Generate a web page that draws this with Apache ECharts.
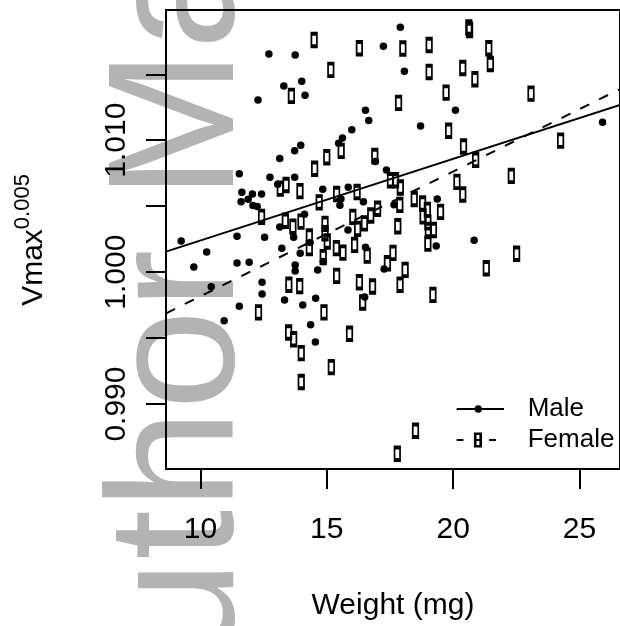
<!DOCTYPE html>
<html>
<head>
<meta charset="utf-8">
<script src="https://cdn.jsdelivr.net/npm/echarts/dist/echarts.min.js"></script>
<style>
  html, body { margin: 0; padding: 0; background: #fff; }
  #chart { width: 620px; height: 626px; }
</style>
</head>
<body>
<div id="chart"></div>
<script>
  // [weight (mg), Vmax^0.005]
  const malePoints = [
    [12.71, 1.01654], [13.75, 1.01646], [17.91, 1.01856], [17.24, 1.01712], [18.07, 1.01523],
    [13.30, 1.01411], [14.01, 1.01447], [14.14, 1.01341], [12.28, 1.01305], [16.53, 1.01227],
    [16.66, 1.01150], [20.09, 1.01227], [15.99, 1.01080], [18.71, 1.01108], [25.91, 1.01136],
    [15.62, 1.01017], [15.47, 1.00977], [13.97, 1.00962], [13.73, 1.00921], [13.14, 1.00862],
    [11.54, 1.00746], [12.75, 1.00720], [13.73, 1.00720], [13.06, 1.00667], [11.64, 1.00605],
    [12.06, 1.00592], [12.42, 1.00593], [11.61, 1.00534], [11.89, 1.00553], [12.08, 1.00506],
    [12.25, 1.00497], [14.84, 1.00629], [15.85, 1.00644], [15.56, 1.00555], [15.52, 1.00508],
    [16.45, 1.00534], [14.12, 1.00438], [17.36, 1.00775], [16.92, 1.00838], [17.66, 1.00510],
    [19.37, 1.00554], [11.45, 1.00273], [12.54, 1.00265], [13.14, 1.00343], [13.69, 1.00265],
    [15.84, 1.00320], [9.24, 1.00237], [10.25, 1.00152], [9.74, 1.00040], [11.45, 1.00069],
    [11.93, 1.00076], [13.22, 1.00182], [13.95, 1.00144], [13.75, 1.00055], [13.75, 1.00008],
    [14.64, 1.00016], [10.43, 0.99889], [12.44, 0.99924], [12.44, 0.99834], [11.54, 0.99742],
    [10.94, 0.99631], [13.33, 0.99789], [14.05, 0.99751], [14.56, 0.99803], [14.36, 0.99602],
    [14.55, 0.99470], [17.27, 1.00023], [16.50, 0.99811], [16.53, 1.00189], [19.33, 1.00199],
    [20.83, 1.00241], [14.34, 1.00224], [14.86, 1.00080]
  ]
  const femalePoints = [
    [14.50, 1.01760], [16.29, 1.01697], [18.01, 1.01695], [19.05, 1.01722], [20.62, 1.01855],
    [20.65, 1.01836], [21.41, 1.01697], [15.16, 1.01533], [19.05, 1.01517], [20.38, 1.01548],
    [20.86, 1.01462], [21.47, 1.01578], [13.60, 1.01336], [17.84, 1.01283], [19.72, 1.01361],
    [23.08, 1.01353], [19.82, 1.01072], [20.41, 1.00952], [20.89, 1.00851], [24.25, 1.00997],
    [22.30, 1.00730], [17.52, 1.00697], [17.72, 1.00697], [17.91, 1.00641], [20.15, 1.00684],
    [20.38, 1.00588], [18.46, 1.00554], [18.79, 1.00520], [18.98, 1.00472], [19.50, 1.00457],
    [17.89, 1.00510], [17.81, 1.00348], [19.00, 1.00377], [19.02, 1.00320], [19.22, 1.00320],
    [19.00, 1.00216], [15.57, 1.00919], [15.00, 1.00871], [14.52, 1.00784], [16.90, 1.00881],
    [13.16, 1.00633], [13.39, 1.00661], [13.94, 1.00614], [12.42, 1.00419], [13.36, 1.00389],
    [13.66, 1.00345], [13.98, 1.00383], [14.70, 1.00529], [15.39, 1.00592], [16.20, 1.00607],
    [16.03, 1.00419], [16.22, 1.00328], [16.49, 1.00370], [16.74, 1.00430], [17.01, 1.00481],
    [14.93, 1.00366], [14.93, 1.00295], [14.31, 1.00270], [14.31, 1.00182], [15.02, 1.00232],
    [15.38, 1.00182], [15.64, 1.00148], [14.86, 1.00114], [15.39, 0.99972], [13.50, 0.99904],
    [13.93, 0.99894], [12.30, 0.99695], [14.89, 0.99695], [16.60, 1.00125], [16.10, 1.00207],
    [17.62, 1.00146], [17.40, 1.00068], [18.10, 1.00017], [17.90, 0.99904], [16.29, 0.99924],
    [16.81, 0.99891], [16.42, 0.99770], [19.20, 0.99828], [13.49, 0.99542], [13.69, 0.99492],
    [13.99, 0.99386], [15.18, 0.99280], [13.99, 0.99167], [15.90, 0.99533], [21.31, 1.00030],
    [22.51, 1.00139], [18.51, 0.98798], [17.79, 0.98623], [18.81, 1.00423]
  ]
  // [intercept, slope] of the fitted lines
  const maleFit = [0.99621, 0.000619]
  const femaleFit = [0.98871, 0.000946]

  const xTicks = [10, 15, 20, 25]
  const yTicks = [0.990, 0.995, 1.000, 1.005, 1.010, 1.015]
  const yLabels = [0.990, 1.000, 1.010]
  const xMin = 8.64, xMax = 26.6
  const yMin = 0.98508, yMax = 1.01987

  const font = '"Liberation Sans", Arial, Helvetica, sans-serif'

  function fitLine(fit) {
    return [[xMin, fit[0] + fit[1] * xMin], [xMax, fit[0] + fit[1] * xMax]]
  }

  const mychart = echarts.init(document.getElementById('chart'))
  mychart.setOption({
    animation: false,
    backgroundColor: '#fff',
    grid: {
      left: 166, top: 10, width: 459.3, height: 459.3,
      show: true, borderColor: '#000', borderWidth: 2
    },
    xAxis: {
      type: 'value', min: xMin, max: xMax,
      axisLine: { show: false },
      splitLine: { show: false },
      axisTick: { show: true, customValues: xTicks, length: 20, lineStyle: { color: '#000', width: 2 } },
      axisLabel: { customValues: xTicks, margin: 46, color: '#000', fontSize: 30, fontFamily: font },
      name: 'Weight (mg)', nameLocation: 'middle', nameGap: 122,
      nameTextStyle: { color: '#000', fontSize: 30, fontFamily: font }
    },
    yAxis: {
      type: 'value', min: yMin, max: yMax,
      axisLine: { show: false },
      splitLine: { show: false },
      axisTick: { show: true, customValues: yTicks, length: 20, lineStyle: { color: '#000', width: 2 } },
      axisLabel: {
        customValues: yLabels, rotate: 90, margin: 34, color: '#000', fontSize: 30, fontFamily: font,
        formatter: v => v.toFixed(3)
      }
    },
    graphic: {
      elements: [
        // watermark
        {
          type: 'text', x: 183, y: 780, rotation: Math.PI / 2, z: -10, silent: true,
          style: { text: 'Author Manuscript', fill: '#b3b3b3', fontSize: 180, fontFamily: font, align: 'left', verticalAlign: 'middle' }
        },
        // y axis title
        {
          type: 'text', x: 30.5, y: 240, rotation: Math.PI / 2,
          style: {
            text: '{v|Vmax}{s|0.005}', align: 'center', verticalAlign: 'middle', fill: '#000',
            rich: {
              v: { fontSize: 30, fontFamily: font, lineHeight: 37, verticalAlign: 'bottom', fill: '#000' },
              s: { fontSize: 22, fontFamily: font, lineHeight: 22, verticalAlign: 'top', fill: '#000' }
            }
          }
        },
        // legend
        { type: 'line', shape: { x1: 456.7, y1: 409, x2: 504, y2: 409 }, style: { stroke: '#000', lineWidth: 2 } },
        { type: 'circle', shape: { cx: 478.3, cy: 409, r: 3.7 }, style: { fill: '#000' } },
        { type: 'text', x: 527.7, y: 409, style: { text: 'Male', fill: '#000', fontSize: 26, fontFamily: font, verticalAlign: 'middle' } },
        { type: 'line', shape: { x1: 456.7, y1: 440, x2: 463.5, y2: 440 }, style: { stroke: '#000', lineWidth: 2 } },
        { type: 'line', shape: { x1: 474.5, y1: 440, x2: 481.5, y2: 440 }, style: { stroke: '#000', lineWidth: 2 } },
        { type: 'line', shape: { x1: 489, y1: 440, x2: 496, y2: 440 }, style: { stroke: '#000', lineWidth: 2 } },
        { type: 'rect', shape: { x: 475.2, y: 433.7, width: 5.5, height: 12.5 }, style: { fill: 'none', stroke: '#000', lineWidth: 2.6 } },
        { type: 'text', x: 527.7, y: 440, style: { text: 'Female', fill: '#000', fontSize: 26, fontFamily: font, verticalAlign: 'middle' } }
      ]
    },
    series: [
      {
        name: 'Male', type: 'scatter', data: malePoints,
        symbol: 'circle', symbolSize: 7.5,
        itemStyle: { color: '#000', opacity: 1 }
      },
      {
        name: 'Female', type: 'scatter', data: femalePoints,
        symbol: 'rect', symbolSize: [5.5, 12.5],
        itemStyle: { color: 'rgba(0,0,0,0)', borderColor: '#000', borderWidth: 2.6, opacity: 1 }
      },
      {
        name: 'Male fit', type: 'line', data: fitLine(maleFit), showSymbol: false,
        lineStyle: { color: '#000', width: 2 }
      },
      {
        name: 'Female fit', type: 'line', data: fitLine(femaleFit), showSymbol: false,
        lineStyle: { color: '#000', width: 2, type: [10, 11] }
      }
    ]
  })
</script>
</body>
</html>
